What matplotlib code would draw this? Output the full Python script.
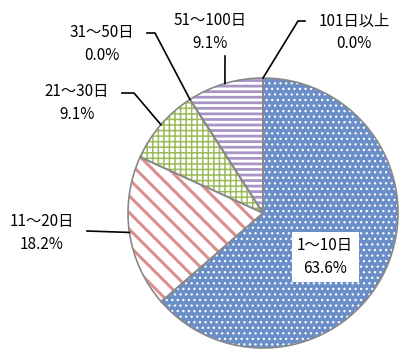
import numpy as np
import matplotlib.pyplot as plt
from matplotlib.patches import Wedge

plt.rcParams['font.family'] = ['Noto Sans CJK JP', 'DejaVu Sans']

# data
categories = ['1～10日', '11～20日', '21～30日', '31～50日', '51～100日', '101日以上']
shares = [63.6, 18.2, 9.1, 0.0, 9.1, 0.0]

# styles per slice: face, hatch, hatch colour, hatch width
faces = ['#6A8EC8', 'white', 'white', 'white', 'white', 'white']
hatches = ['...', '\\\\', '+++', '', '---', '']
hatch_cols = ['white', '#DA8F8F', '#9BBB59', '#9BBB59', '#A895C6', '#6A8EC8']
hatch_lws = [0.9, 2.2, 1.1, 1.0, 2.0, 1.0]

W, H = 399, 349
cx, cy, R = 263, 213, 135


def px(x, y):
    # pixel (from top-left) -> data coords
    return x, H - y


fig = plt.figure(figsize=(W / 100, H / 100), dpi=100)
ax = fig.add_axes([0, 0, 1, 1])

wedges, _ = ax.pie(shares, center=px(cx, cy), radius=R, startangle=90,
                   counterclock=False, normalize=True)
for w, fc, h, hc, lw in zip(wedges, faces, hatches, hatch_cols, hatch_lws):
    w.set_facecolor(fc)
    w.set_edgecolor(hc)
    w.set_hatch(h)
    w.set_linewidth(0)
    if hasattr(w, 'set_hatch_linewidth'):
        w.set_hatch_linewidth(lw)
    # outline on top
    ax.add_patch(Wedge(w.center, w.r, w.theta1, w.theta2, facecolor='none',
                       edgecolor='#888888', linewidth=1.2, zorder=3))

ax.set_xlim(0, W)
ax.set_ylim(0, H)
ax.set_aspect('equal')
ax.axis('off')

# label layout: text centre, leader line points (pixels), None = no leader
label_pos = [(325, 257), (42, 233), (77, 103), (102, 44), (210, 32), (354, 32)]
leaders = [None,
           [(87, 231)],
           [(122, 93), (134, 93)],
           [(147, 33), (155, 33)],
           [(225, 56)],
           [(305, 21), (298, 21)]]

theta = 90.0
for name, v, pos, ld in zip(categories, shares, label_pos, leaders):
    span = v / sum(shares) * 360
    mid = np.deg2rad(theta - span / 2)
    theta -= span
    ax_, ay_ = cx + R * np.cos(mid), cy - R * np.sin(mid)
    txt = f'{name}\n{v:.1f}%'
    kw = dict(ha='center', va='center', fontsize=11, linespacing=1.4, zorder=5)
    if ld is None:
        kw['bbox'] = dict(facecolor='white', edgecolor='none', pad=4)
    ax.text(*px(*pos), txt, **kw)
    if ld is not None:
        pts = ld + [(ax_, ay_)]
        xs = [p[0] for p in pts]
        ys = [H - p[1] for p in pts]
        ax.plot(xs, ys, color='black', lw=1.2, zorder=4)

fig.savefig('out.png', dpi=100)
